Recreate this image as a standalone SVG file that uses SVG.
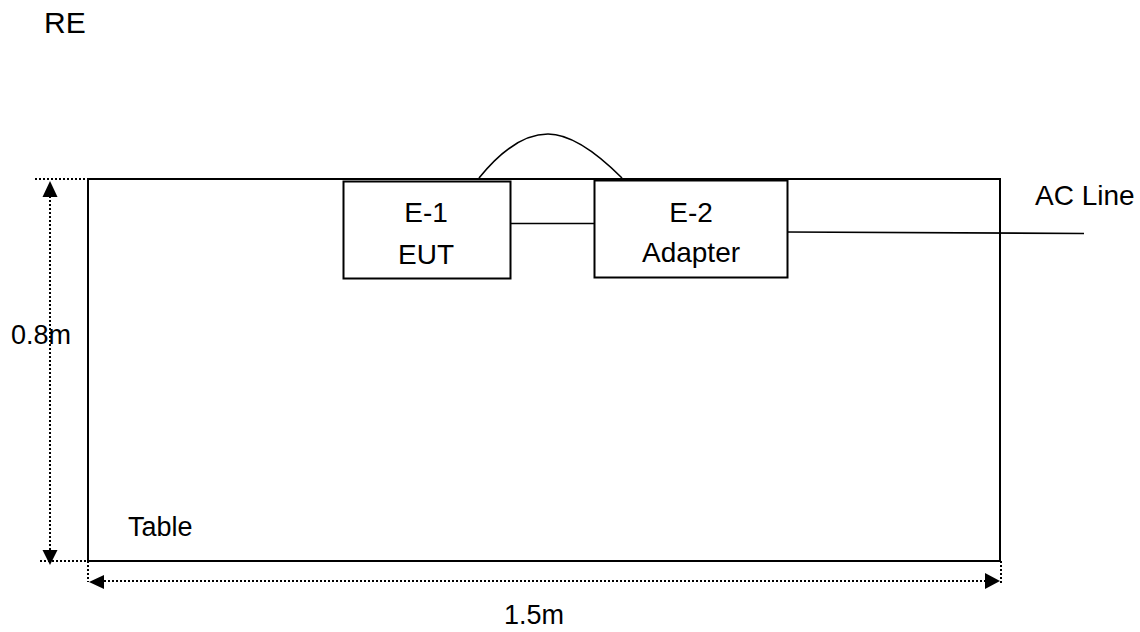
<svg xmlns="http://www.w3.org/2000/svg" width="1140" height="632" viewBox="0 0 1140 632">
<style>
text{font-family:"Liberation Sans",Arial,sans-serif;font-size:27px;fill:#000}
.big{font-size:28px}
.box{fill:#fff;stroke:#000;stroke-width:2}
.ln{fill:none;stroke:#000;stroke-width:1.6}
.dot{fill:none;stroke:#000;stroke-width:2;stroke-dasharray:2 2}
</style>
<rect width="1140" height="632" fill="#fff"/>
<text x="44" y="33" style="font-size:30px">RE</text>
<g id="table">
<rect class="box" x="88" y="179" width="912" height="382"/>
<text x="128" y="536">Table</text>
</g>
<g id="connectors">
<path class="ln" d="M479,178 C500,152 524,134 548,134 C572,134 598,154 622,178"/>
<line class="ln" x1="510" y1="223.5" x2="594" y2="223.5"/>
<line class="ln" x1="787" y1="232" x2="1084" y2="233.5"/>
</g>
<g id="e1">
<rect class="box" x="343.5" y="181.5" width="167" height="97"/>
<text class="big" x="426" y="222" text-anchor="middle">E-1</text>
<text class="big" x="426" y="264" text-anchor="middle">EUT</text>
</g>
<g id="e2">
<rect class="box" x="594.5" y="180.5" width="193" height="97"/>
<text class="big" x="691" y="222" text-anchor="middle">E-2</text>
<text class="big" x="691" y="262" text-anchor="middle">Adapter</text>
</g>
<text class="big" x="1035" y="205">AC Line</text>
<g id="dimensions">
<line class="dot" x1="35" y1="179" x2="105" y2="179"/>
<line class="dot" x1="40" y1="561" x2="110" y2="561"/>
<line class="dot" x1="50" y1="196" x2="50" y2="550"/>
<polygon points="50,181 42.5,197 57.5,197"/>
<polygon points="50,565 42.5,550 57.5,550"/>
<line class="dot" x1="88" y1="561" x2="88" y2="582"/>
<line class="dot" x1="1001" y1="561" x2="1001" y2="583"/>
<line class="dot" x1="104" y1="581" x2="986" y2="581"/>
<polygon points="89,582 104,575 104,589"/>
<polygon points="1000,581 985,573 985,589"/>
<text x="11" y="344">0.8m</text>
<text x="504" y="624">1.5m</text>
</g>
</svg>
